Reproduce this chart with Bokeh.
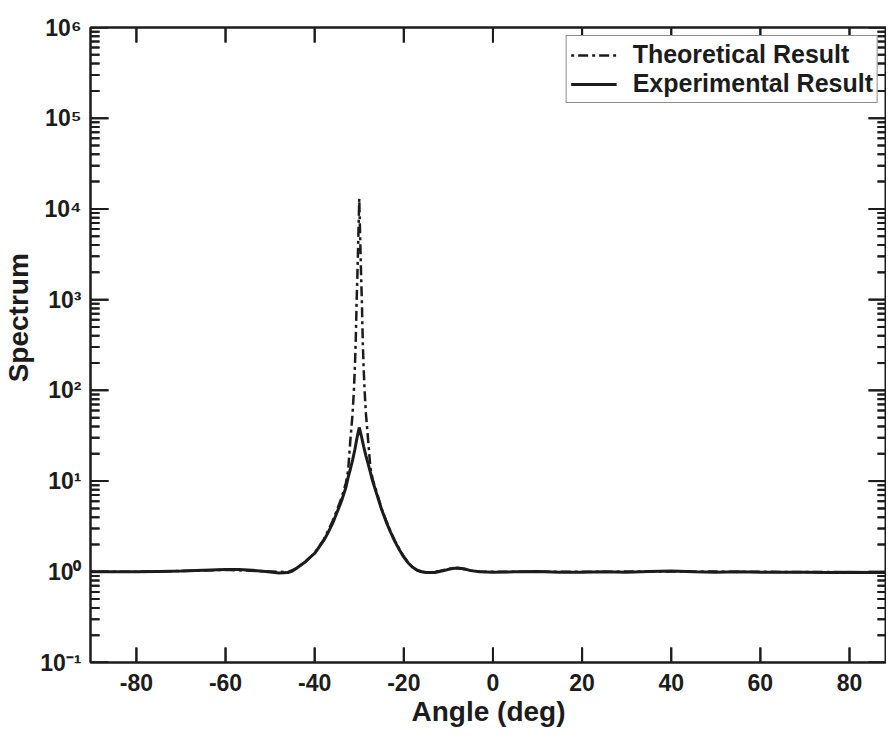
from bokeh.plotting import figure
from bokeh.models import (FixedTicker, LinearAxis, LogAxis, CustomJSTickFormatter,
                          Legend, LegendItem, Range1d, Arrow, ColumnDataSource)
from bokeh.embed import file_html
from bokeh.resources import INLINE

# ---------------- data ----------------
exp_angle = [-90, -85, -80, -75, -70, -65, -60, -57, -54, -51, -48, -46, -45, -44, -42, -40,
             -38, -37, -36, -35, -34, -33, -32.5, -32, -31.5, -31, -30.5, -30, -29.5, -29,
             -28.5, -28, -27.5, -27, -26, -25, -24, -23, -22, -21, -20, -19, -18, -17, -16,
             -15, -13, -11, -9.5, -8, -6.5, -5, -3, 0, 5, 10, 15, 20, 25, 30, 35, 40, 45,
             50, 55, 60, 65, 70, 75, 80, 85, 90]
exp_val = [1.00, 1.00, 1.00, 1.01, 1.02, 1.04, 1.06, 1.06, 1.04, 1.01, 0.97, 0.98, 1.02, 1.10,
           1.30, 1.60, 2.2, 2.7, 3.4, 4.5, 6.0, 8.5, 11, 13.5, 17, 22, 30, 39, 31, 24,
           19, 15.5, 12.5, 10, 7.0, 4.9, 3.6, 2.75, 2.15, 1.75, 1.45, 1.25, 1.12, 1.04, 1.00,
           0.98, 0.98, 1.03, 1.08, 1.10, 1.08, 1.03, 1.00, 0.99, 1.00, 1.01, 0.99, 0.99, 1.00,
           0.99, 1.01, 1.02, 1.00, 0.99, 1.00, 0.99, 0.99, 0.99, 0.98, 0.99, 0.98, 0.98]

theo_angle = [-90, -80, -70, -60, -50, -46, -44, -42, -40, -38, -36, -35, -34, -33, -32.5,
              -32, -31.5, -31.2, -31, -30.8, -30.6, -30.4, -30.2, -30, -29.8, -29.6, -29.4,
              -29.2, -29, -28.8, -28.5, -28, -27.5, -27, -26, -25, -24, -23, -22, -21, -20,
              -19, -18, -17, -16, -14, -12, -10, -8, -6, -4, 0, 20, 40, 60, 80, 90]
theo_val = [1.00, 1.00, 1.02, 1.05, 1.01, 0.99, 1.10, 1.30, 1.62, 2.25, 3.6, 4.8, 6.5, 9.5, 13,
            28, 55, 100, 170, 330, 900, 2000, 5000, 13000, 5000, 2000, 900,
            330, 170, 100, 55, 28, 14, 10.5, 7.3, 5.0, 3.7, 2.8, 2.2, 1.78, 1.47,
            1.26, 1.12, 1.04, 1.00, 0.98, 1.02, 1.07, 1.10, 1.06, 1.01, 1.00, 1.00, 1.01, 1.00, 0.99, 0.99]

x_tick_values = [-80, -60, -40, -20, 0, 20, 40, 60, 80]
x_tick_labels = ["-80", "-60", "-40", "-20", "0", "20", "40", "60", "80"]
y_tick_values = [0.1, 1, 10, 100, 1000, 10000, 100000, 1000000]
y_tick_labels = ["10\u207b\u00b9", "10\u2070", "10\u00b9", "10\u00b2", "10\u00b3",
                 "10\u2074", "10\u2075", "10\u2076"]
y_minor_values = [m * 10.0 ** e for e in range(-1, 6) for m in range(2, 10)]

X_LO, X_HI = -90.3, 88.3
Y_LO, Y_HI = 0.1, 1e6

W, H = 886, 736
B_LEFT, B_TOP, B_BOTTOM, B_RIGHT = 88, 27, 74, 1

INK = "#1c1c1c"
FONT = "Liberation Sans"

p = figure(width=W, height=H, x_range=Range1d(X_LO, X_HI), y_range=Range1d(Y_LO, Y_HI),
           y_axis_type="log", output_backend="svg", toolbar_location=None,
           min_border_left=B_LEFT, min_border_top=B_TOP, min_border_bottom=B_BOTTOM,
           min_border_right=0)
p.background_fill_color = None
p.border_fill_color = None
p.xgrid.visible = False
p.ygrid.visible = False
p.outline_line_color = INK
p.outline_line_width = 2

xticker = FixedTicker(ticks=x_tick_values, minor_ticks=[])
yticker = FixedTicker(ticks=y_tick_values, minor_ticks=y_minor_values)

lookup_code = """
let best = 0, bd = 1e99;
for (let i = 0; i < vals.length; i++) {
  const d = LOG ? Math.abs(Math.log10(vals[i]) - Math.log10(tick)) : Math.abs(vals[i] - tick);
  if (d < bd) { bd = d; best = i; }
}
return labels[best];
"""
xfmt = CustomJSTickFormatter(args=dict(vals=x_tick_values, labels=x_tick_labels),
                             code=lookup_code.replace("LOG", "false"))
yfmt = CustomJSTickFormatter(args=dict(vals=y_tick_values, labels=y_tick_labels),
                             code=lookup_code.replace("LOG", "true"))
blank = CustomJSTickFormatter(code="return '';")


def style_axis(ax, labels=True):
    ax.axis_line_color = INK
    ax.axis_line_width = 2
    ax.major_tick_in = 0
    ax.major_tick_out = 0
    ax.minor_tick_in = 0
    ax.minor_tick_out = 0
    if labels:
        ax.major_label_text_font = FONT
        ax.major_label_text_font_style = "bold"
        ax.major_label_text_font_size = "23px"
        ax.major_label_text_color = INK
        ax.axis_label_text_font = FONT
        ax.axis_label_text_font_style = "bold"
        ax.axis_label_text_font_size = "28px"
        ax.axis_label_text_color = INK
    else:
        ax.formatter = blank
        ax.major_label_text_font_size = "1px"
        ax.major_label_standoff = 0


xa = p.xaxis[0]
xa.ticker = xticker
xa.formatter = xfmt
xa.axis_label = "Angle (deg)"
style_axis(xa)
xa.major_label_standoff = 11
xa.axis_label_standoff = 2

ya = p.yaxis[0]
ya.ticker = yticker
ya.formatter = yfmt
ya.axis_label = "\u00a0" * 7 + "Spectrum"
style_axis(ya)
ya.major_label_standoff = 9
ya.axis_label_standoff = 3

top = LinearAxis(ticker=xticker)
style_axis(top, labels=False)
p.add_layout(top, "above")
right = LogAxis(ticker=yticker)
style_axis(right, labels=False)
p.add_layout(right, "right")

# inward tick marks on all four frame edges; lengths converted from pixels
px_per_deg = (W - B_LEFT - B_RIGHT) / (X_HI - X_LO)
px_per_dec = (H - B_TOP - B_BOTTOM) / 7.0


def dx(px):
    return px / px_per_deg


def fy(px):
    return 10 ** (px / px_per_dec)


nx, ny, nm = len(x_tick_values), len(y_tick_values), len(y_minor_values)
tx0, ty0, tx1, ty1 = [], [], [], []
# bottom and top edges
tx0 += x_tick_values * 2
tx1 += x_tick_values * 2
ty0 += [Y_LO] * nx + [Y_HI] * nx
ty1 += [Y_LO * fy(15)] * nx + [Y_HI / fy(15)] * nx
# left and right edges, major then minor
for edge, sgn in ((X_LO, 1), (X_HI, -1)):
    tx0 += [edge] * (ny + nm)
    tx1 += [edge + sgn * dx(18)] * ny + [edge + sgn * dx(9)] * nm
    ty0 += y_tick_values + y_minor_values
    ty1 += y_tick_values + y_minor_values

tick_src = ColumnDataSource(dict(x0=tx0, y0=ty0, x1=tx1, y1=ty1))
p.segment(x0="x0", y0="y0", x1="x1", y1="y1", source=tick_src, line_color=INK, line_width=2)
p.add_layout(Arrow(end=None, x_start="x0", y_start="y0", x_end="x1", y_end="y1",
                   source=tick_src, line_color=INK, line_width=2))

r_theo = p.line(theo_angle, theo_val, line_color=INK, line_width=2.5, line_dash="3 4 10 4")
r_exp = p.line(exp_angle, exp_val, line_color=INK, line_width=3)

legend = Legend(items=[LegendItem(label="Theoretical Result", renderers=[r_theo]),
                       LegendItem(label="Experimental Result", renderers=[r_exp])],
                location="top_right")
legend.margin = 8
legend.padding = 4
legend.spacing = 0
legend.border_line_color = INK
legend.border_line_width = 1.5
legend.background_fill_color = "white"
legend.background_fill_alpha = 1
legend.label_text_font = FONT
legend.label_text_font_style = "bold"
legend.label_text_font_size = "25px"
legend.label_text_color = INK
legend.glyph_width = 46
legend.glyph_height = 28
legend.label_standoff = 16
legend.label_height = 28
p.add_layout(legend)

open("out.html", "w").write(file_html(p, INLINE))
